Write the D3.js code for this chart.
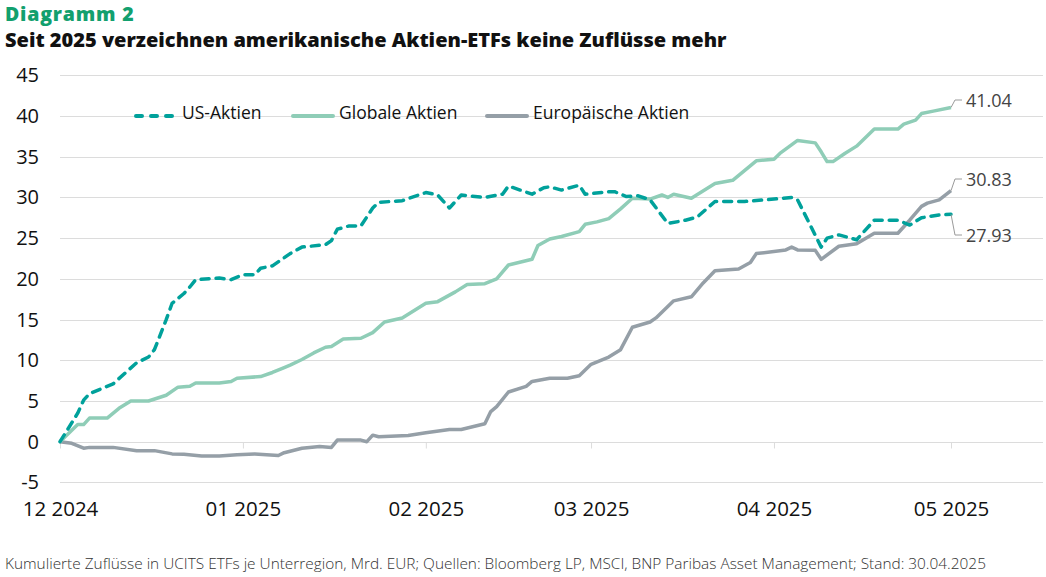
<!DOCTYPE html>
<html>
<head>
<meta charset="utf-8">
<script src="https://cdn.jsdelivr.net/npm/d3@7"></script>
<style>
  body { margin: 0; background: #fff; }
  svg { display: block; font-family: "Open Sans", "Noto Sans", sans-serif; }
</style>
</head>
<body>
<svg width="1046" height="577"></svg>
<script>
// kumulierte Zuflüsse, Mrd. EUR
var usAktien = [
  ["2024-12-01", 0], ["2024-12-02", 1.15], ["2024-12-04", 3.5], ["2024-12-05", 5.1], ["2024-12-06", 5.9],
  ["2024-12-10", 7.1], ["2024-12-12", 8.4], ["2024-12-14", 9.7], ["2024-12-16", 10.4], ["2024-12-17", 11.3],
  ["2024-12-19", 15.0], ["2024-12-20", 17.0], ["2024-12-22", 18.2], ["2024-12-23", 19.0], ["2024-12-24", 19.9],
  ["2024-12-28", 20.1], ["2024-12-30", 19.9], ["2025-01-01", 20.5], ["2025-01-03", 20.5], ["2025-01-04", 21.3],
  ["2025-01-06", 21.6], ["2025-01-09", 23.1], ["2025-01-11", 23.9], ["2025-01-15", 24.2], ["2025-01-16", 24.7],
  ["2025-01-17", 26.1], ["2025-01-19", 26.5], ["2025-01-21", 26.5], ["2025-01-23", 28.7], ["2025-01-24", 29.4],
  ["2025-01-28", 29.6], ["2025-02-01", 30.6], ["2025-02-03", 30.3], ["2025-02-05", 28.7], ["2025-02-07", 30.3],
  ["2025-02-11", 30.0], ["2025-02-14", 30.4], ["2025-02-15", 31.4], ["2025-02-19", 30.4], ["2025-02-21", 31.2],
  ["2025-02-22", 31.3], ["2025-02-24", 30.9], ["2025-02-27", 31.5], ["2025-02-28", 30.4], ["2025-03-04", 30.7],
  ["2025-03-05", 30.7], ["2025-03-07", 30.1], ["2025-03-09", 30.2], ["2025-03-11", 29.7], ["2025-03-14", 26.8],
  ["2025-03-17", 27.2], ["2025-03-19", 27.6], ["2025-03-22", 29.5], ["2025-03-27", 29.5], ["2025-04-01", 29.8],
  ["2025-04-04", 30.0], ["2025-04-05", 29.7], ["2025-04-09", 23.9], ["2025-04-10", 25.0], ["2025-04-12", 25.4],
  ["2025-04-15", 24.8], ["2025-04-18", 27.2], ["2025-04-22", 27.2], ["2025-04-24", 26.6], ["2025-04-26", 27.5],
  ["2025-04-29", 27.85], ["2025-05-01", 27.93]
];

var globaleAktien = [
  ["2024-12-01", 0], ["2024-12-04", 2.1], ["2024-12-05", 2.1], ["2024-12-06", 2.9], ["2024-12-09", 2.9],
  ["2024-12-11", 4.1], ["2024-12-13", 5.0], ["2024-12-16", 5.0], ["2024-12-19", 5.7], ["2024-12-21", 6.7],
  ["2024-12-23", 6.8], ["2024-12-24", 7.2], ["2024-12-28", 7.2], ["2024-12-30", 7.4], ["2024-12-31", 7.8],
  ["2025-01-04", 8.0], ["2025-01-06", 8.5], ["2025-01-08", 9.1], ["2025-01-09", 9.4], ["2025-01-11", 10.1],
  ["2025-01-13", 10.9], ["2025-01-15", 11.6], ["2025-01-16", 11.7], ["2025-01-18", 12.6], ["2025-01-21", 12.7],
  ["2025-01-23", 13.4], ["2025-01-25", 14.7], ["2025-01-28", 15.2], ["2025-02-01", 17.0], ["2025-02-03", 17.2],
  ["2025-02-06", 18.4], ["2025-02-08", 19.3], ["2025-02-11", 19.4], ["2025-02-13", 20.0], ["2025-02-15", 21.7],
  ["2025-02-19", 22.4], ["2025-02-20", 24.1], ["2025-02-22", 24.9], ["2025-02-24", 25.2], ["2025-02-27", 25.8],
  ["2025-02-28", 26.7], ["2025-03-02", 27.0], ["2025-03-04", 27.4], ["2025-03-06", 28.6], ["2025-03-08", 29.9],
  ["2025-03-11", 29.8], ["2025-03-13", 30.3], ["2025-03-14", 30.0], ["2025-03-15", 30.4], ["2025-03-18", 29.9],
  ["2025-03-22", 31.7], ["2025-03-25", 32.1], ["2025-03-29", 34.5], ["2025-04-01", 34.7], ["2025-04-02", 35.4],
  ["2025-04-05", 37.0], ["2025-04-08", 36.7], ["2025-04-09", 35.6], ["2025-04-10", 34.4], ["2025-04-11", 34.4],
  ["2025-04-13", 35.4], ["2025-04-15", 36.3], ["2025-04-18", 38.4], ["2025-04-22", 38.4], ["2025-04-23", 39.0],
  ["2025-04-25", 39.5], ["2025-04-26", 40.3], ["2025-04-28", 40.6], ["2025-05-01", 41.04]
];

var europaAktien = [
  ["2024-12-01", 0], ["2024-12-03", -0.2], ["2024-12-05", -0.8], ["2024-12-06", -0.7], ["2024-12-10", -0.7],
  ["2024-12-14", -1.1], ["2024-12-17", -1.1], ["2024-12-20", -1.5], ["2024-12-22", -1.55], ["2024-12-25", -1.75],
  ["2024-12-28", -1.75], ["2024-12-31", -1.6], ["2025-01-03", -1.5], ["2025-01-07", -1.7], ["2025-01-08", -1.35],
  ["2025-01-11", -0.8], ["2025-01-14", -0.6], ["2025-01-16", -0.7], ["2025-01-17", 0.2], ["2025-01-21", 0.2],
  ["2025-01-22", 0.0], ["2025-01-23", 0.8], ["2025-01-24", 0.6], ["2025-01-29", 0.75], ["2025-02-01", 1.1],
  ["2025-02-05", 1.5], ["2025-02-07", 1.5], ["2025-02-11", 2.2], ["2025-02-12", 3.7], ["2025-02-13", 4.3],
  ["2025-02-15", 6.1], ["2025-02-18", 6.8], ["2025-02-19", 7.4], ["2025-02-22", 7.8], ["2025-02-25", 7.8],
  ["2025-02-27", 8.1], ["2025-03-01", 9.5], ["2025-03-04", 10.4], ["2025-03-06", 11.3], ["2025-03-08", 14.05],
  ["2025-03-11", 14.7], ["2025-03-12", 15.2], ["2025-03-15", 17.3], ["2025-03-18", 17.8], ["2025-03-20", 19.5],
  ["2025-03-22", 21.0], ["2025-03-26", 21.2], ["2025-03-28", 22.0], ["2025-03-29", 23.1], ["2025-04-03", 23.55],
  ["2025-04-04", 23.9], ["2025-04-05", 23.55], ["2025-04-08", 23.5], ["2025-04-09", 22.4], ["2025-04-12", 24.0],
  ["2025-04-15", 24.3], ["2025-04-18", 25.6], ["2025-04-22", 25.6], ["2025-04-24", 27.2], ["2025-04-26", 28.9],
  ["2025-04-27", 29.3], ["2025-04-29", 29.7], ["2025-05-01", 30.83]
];

var yTicks = [-5, 0, 5, 10, 15, 20, 25, 30, 35, 40, 45];
var xTicks = ["2024-12-01", "2025-01-01", "2025-02-01", "2025-03-01", "2025-04-01", "2025-05-01"];
var endLabels = ["41.04", "30.83", "27.93"];
var legendNames = ["US-Aktien", "Globale Aktien", "Europäische Aktien"];

var parse = d3.timeParse("%Y-%m-%d");
var svg = d3.select("svg");

var x = d3.scaleTime()
  .domain([parse("2024-12-01"), parse("2025-05-01")])
  .range([60, 951]);
var y = d3.scaleLinear().domain([-5, 45]).range([482.4, 75.3]);

// Titel
svg.append("text").attr("x", 5).attr("y", 20.5)
  .attr("fill", "#12a06e").attr("font-size", 19.5).attr("font-weight", 800)
  .attr("letter-spacing", 0.8)
  .text("Diagramm 2");
svg.append("text").attr("x", 5).attr("y", 47)
  .attr("fill", "#111").attr("font-size", 20).attr("font-weight", 800)
  .text("Seit 2025 verzeichnen amerikanische Aktien-ETFs keine Zuflüsse mehr");

// Gitter
svg.append("g").selectAll("line").data(yTicks).enter().append("line")
  .attr("x1", 60).attr("x2", 1043)
  .attr("y1", function (d) { return Math.round(y(d)) + 0.5; })
  .attr("y2", function (d) { return Math.round(y(d)) + 0.5; })
  .attr("stroke", "#dcdcdc").attr("stroke-width", 1);

// y-Achse
svg.append("g").selectAll("text").data(yTicks).enter().append("text")
  .attr("x", 39).attr("y", function (d) { return y(d) + 7; })
  .attr("text-anchor", "end").attr("font-size", 20).attr("font-weight", 500).attr("fill", "#111")
  .text(function (d) { return d; });

// x-Achse
var xAxis = d3.axisBottom(x)
  .tickValues(xTicks.map(parse))
  .tickSize(6)
  .tickFormat(d3.timeFormat("%m %Y"));
var gx = svg.append("g").attr("transform", "translate(0," + (Math.round(y(0)) + 0.5) + ")").call(xAxis);
gx.select(".domain").remove();
gx.selectAll(".tick line").attr("stroke", "#dcdcdc");
gx.selectAll(".tick text")
  .attr("y", 73).attr("dy", 0)
  .attr("font-family", "Open Sans, Noto Sans, sans-serif")
  .attr("font-size", 20.5).attr("font-weight", 500).attr("fill", "#111");

// Linien
var line = d3.line()
  .x(function (d) { return x(parse(d[0])); })
  .y(function (d) { return y(d[1]); });

var series = [
  { data: europaAktien, color: "#959fa7", dash: null },
  { data: globaleAktien, color: "#8fcdb7", dash: null },
  { data: usAktien, color: "#00a19b", dash: "8,7" }
];

series.forEach(function (s) {
  svg.append("path").datum(s.data)
    .attr("d", line)
    .attr("fill", "none")
    .attr("stroke", s.color)
    .attr("stroke-width", 3.5)
    .attr("stroke-linejoin", "round")
    .attr("stroke-linecap", s.dash ? "round" : "butt")
    .attr("stroke-dasharray", s.dash);
});

// Endwerte mit Hinweislinien
var lastG = globaleAktien[globaleAktien.length - 1];
var lastE = europaAktien[europaAktien.length - 1];
var lastU = usAktien[usAktien.length - 1];
var callouts = [
  { p: lastG, ty: 100, text: endLabels[0] },
  { p: lastE, ty: 179, text: endLabels[1] },
  { p: lastU, ty: 235, text: endLabels[2] }
];
callouts.forEach(function (c) {
  var px = x(parse(c.p[0])), py = y(c.p[1]);
  svg.append("path")
    .attr("d", "M" + px + "," + py + "L" + (px + 4) + "," + c.ty + "L" + (px + 11) + "," + c.ty)
    .attr("fill", "none").attr("stroke", "#9a9a9a").attr("stroke-width", 1);
  svg.append("text").attr("x", px + 15).attr("y", c.ty + 6.5)
    .attr("font-size", 18).attr("font-weight", 500).attr("fill", "#444")
    .text(c.text);
});

// Legende
var legend = [
  { name: legendNames[0], color: "#00a19b", dash: "10,5", x: 136 },
  { name: legendNames[1], color: "#8fcdb7", dash: null, x: 293 },
  { name: legendNames[2], color: "#959fa7", dash: null, x: 487 }
];
legend.forEach(function (l) {
  svg.append("line")
    .attr("x1", l.x).attr("x2", l.x + 40).attr("y1", 116).attr("y2", 116)
    .attr("stroke", l.color).attr("stroke-width", 4)
    .attr("stroke-linecap", "round")
    .attr("stroke-dasharray", l.dash ? "6,9" : null);
  svg.append("text").attr("x", l.x + 46).attr("y", 119)
    .attr("font-size", 17.5).attr("font-weight", 500).attr("fill", "#111")
    .text(l.name);
});

// Quelle
svg.append("text").attr("x", 5).attr("y", 569)
  .attr("font-size", 15.4).attr("font-weight", 300).attr("fill", "#333")
  .text("Kumulierte Zuflüsse in UCITS ETFs je Unterregion, Mrd. EUR; Quellen: Bloomberg LP, MSCI, BNP Paribas Asset Management; Stand: 30.04.2025");
</script>
</body>
</html>
